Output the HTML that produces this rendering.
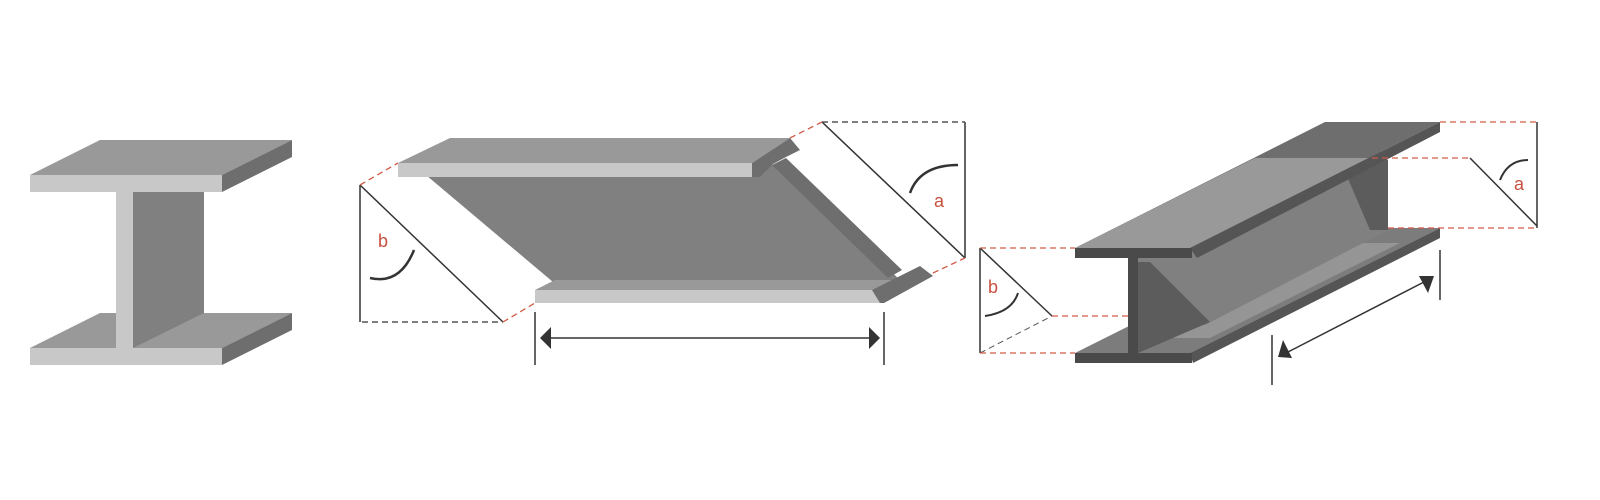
<!DOCTYPE html>
<html><head><meta charset="utf-8"><style>html,body{margin:0;padding:0;background:#fff}svg{display:block}</style></head>
<body>
<svg width="1600" height="500" viewBox="0 0 1600 500" xmlns="http://www.w3.org/2000/svg" font-family="Liberation Sans, sans-serif">
<!-- Left I-beam -->
<polygon points="30,175 100,140 292,140 222,175" fill="#999"/>
<rect x="30" y="175" width="192" height="17" fill="#c8c8c8"/>
<polygon points="222,175 292,140 292,157 222,192" fill="#6e6e6e"/>
<polygon points="30,348 100,313 292,313 222,348" fill="#999"/>
<rect x="30" y="348" width="192" height="17" fill="#c8c8c8"/>
<polygon points="222,348 292,313 292,330 222,365" fill="#6e6e6e"/>
<polygon points="133,192 204,192 204,313 133,348" fill="#808080"/>
<rect x="116" y="192" width="17" height="156" fill="#c8c8c8"/>

<!-- Middle beam -->
<polygon points="420,170 780,165 900,280 553,282" fill="#808080"/>
<polygon points="398,163 450,138 790,138 752,163" fill="#999"/>
<rect x="398" y="163" width="354" height="14" fill="#c8c8c8"/>
<polygon points="752,163 790,138 800,150 786,157 773,164 760,177 752,177" fill="#6e6e6e"/>
<polygon points="772,165 786,158 902,270 888,278" fill="#6e6e6e"/>
<polygon points="535,290 555,280 905,280 880,290" fill="#999"/>
<rect x="535" y="290" width="345" height="13" fill="#c8c8c8"/>
<polygon points="872,290 900,276 920,266 933,276 884,303 880,303" fill="#6e6e6e"/>

<g stroke="#333" stroke-width="1.5" fill="none">
<line x1="360" y1="185" x2="360" y2="322"/>
<line x1="360" y1="185" x2="503" y2="322"/>
<line x1="822" y1="122" x2="965" y2="258"/>
<line x1="965" y1="122" x2="965" y2="258"/>
<line x1="535" y1="312" x2="535" y2="365"/>
<line x1="884" y1="312" x2="884" y2="365"/>
<line x1="548" y1="338" x2="872" y2="338"/>
<path d="M370,278 Q400,285 414,250" stroke-width="2.5"/>
<path d="M910,193 Q920,165 958,165" stroke-width="2.5"/>
</g>
<polygon points="540,338 551,327 551,349" fill="#333"/>
<polygon points="880,338 869,327 869,349" fill="#333"/>
<g stroke="#555" stroke-width="1.5" stroke-dasharray="6,4" fill="none">
<line x1="362" y1="322" x2="503" y2="322"/>
<line x1="822" y1="122" x2="965" y2="122"/>
</g>
<g stroke="#d05a45" stroke-width="1.3" stroke-dasharray="6,4" fill="none">
<line x1="360" y1="185" x2="398" y2="163"/>
<line x1="503" y1="322" x2="535" y2="303"/>
<line x1="790" y1="138" x2="822" y2="122"/>
<line x1="933" y1="273" x2="965" y2="258"/>
</g>
<text x="378" y="247" font-size="18" fill="#c85040">b</text>
<text x="934" y="207" font-size="18" fill="#c85040">a</text>

<!-- Right beam -->
<polygon points="1075,353 1325,228 1440,228 1190,353" fill="#7c7c7c"/>
<polygon points="1150,338 1340,243 1400,243 1210,338" fill="#959595"/>
<polygon points="1190,353 1440,228 1440,238 1193,363" fill="#555"/>
<rect x="1075" y="353" width="117" height="10" fill="#4a4a4a"/>
<polygon points="1138,258 1370,142 1388,160 1388,230 1205,325 1138,325" fill="#808080"/>
<polygon points="1340,160 1388,160 1388,230 1370,230" fill="#5c5c5c"/>
<polygon points="1138,262 1150,262 1210,322 1138,353" fill="#5c5c5c"/>
<rect x="1128" y="258" width="10" height="95" fill="#4a4a4a"/>
<polygon points="1075,248 1325,122 1440,122 1190,248" fill="#6e6e6e"/>
<polygon points="1075,248 1255,158 1372,158 1190,248" fill="#999"/>
<polygon points="1190,248 1440,122 1440,132 1197,258" fill="#555"/>
<rect x="1075" y="248" width="117" height="10" fill="#4a4a4a"/>

<g stroke="#333" stroke-width="1.5" fill="none">
<line x1="980" y1="248" x2="980" y2="353"/>
<line x1="980" y1="248" x2="1052" y2="316"/>
<line x1="1470" y1="158" x2="1537" y2="226"/>
<line x1="1537" y1="122" x2="1537" y2="228"/>
<line x1="1272" y1="335" x2="1272" y2="385"/>
<line x1="1440" y1="250" x2="1440" y2="300"/>
<line x1="1288" y1="352" x2="1424" y2="282"/>
<path d="M985,316 Q1012,312 1018,293" stroke-width="2"/>
<path d="M1500,180 Q1508,160 1528,160" stroke-width="2"/>
</g>
<polygon points="1278,357 1283,340 1292,358" fill="#333"/>
<polygon points="1434,276 1428,293 1419,276" fill="#333"/>
<line x1="980" y1="353" x2="1052" y2="316" stroke="#555" stroke-width="1" stroke-dasharray="6,4"/>
<g stroke="#d05a45" stroke-width="1.3" stroke-dasharray="6,4" fill="none">
<line x1="980" y1="248" x2="1075" y2="248"/>
<line x1="980" y1="353" x2="1075" y2="353"/>
<line x1="1052" y1="316" x2="1128" y2="316"/>
<line x1="1440" y1="122" x2="1537" y2="122"/>
<line x1="1372" y1="158" x2="1470" y2="158"/>
<line x1="1388" y1="228" x2="1537" y2="228"/>
</g>
<text x="988" y="293" font-size="18" fill="#c85040">b</text>
<text x="1514" y="190" font-size="18" fill="#c85040">a</text>
</svg>
</body></html>
